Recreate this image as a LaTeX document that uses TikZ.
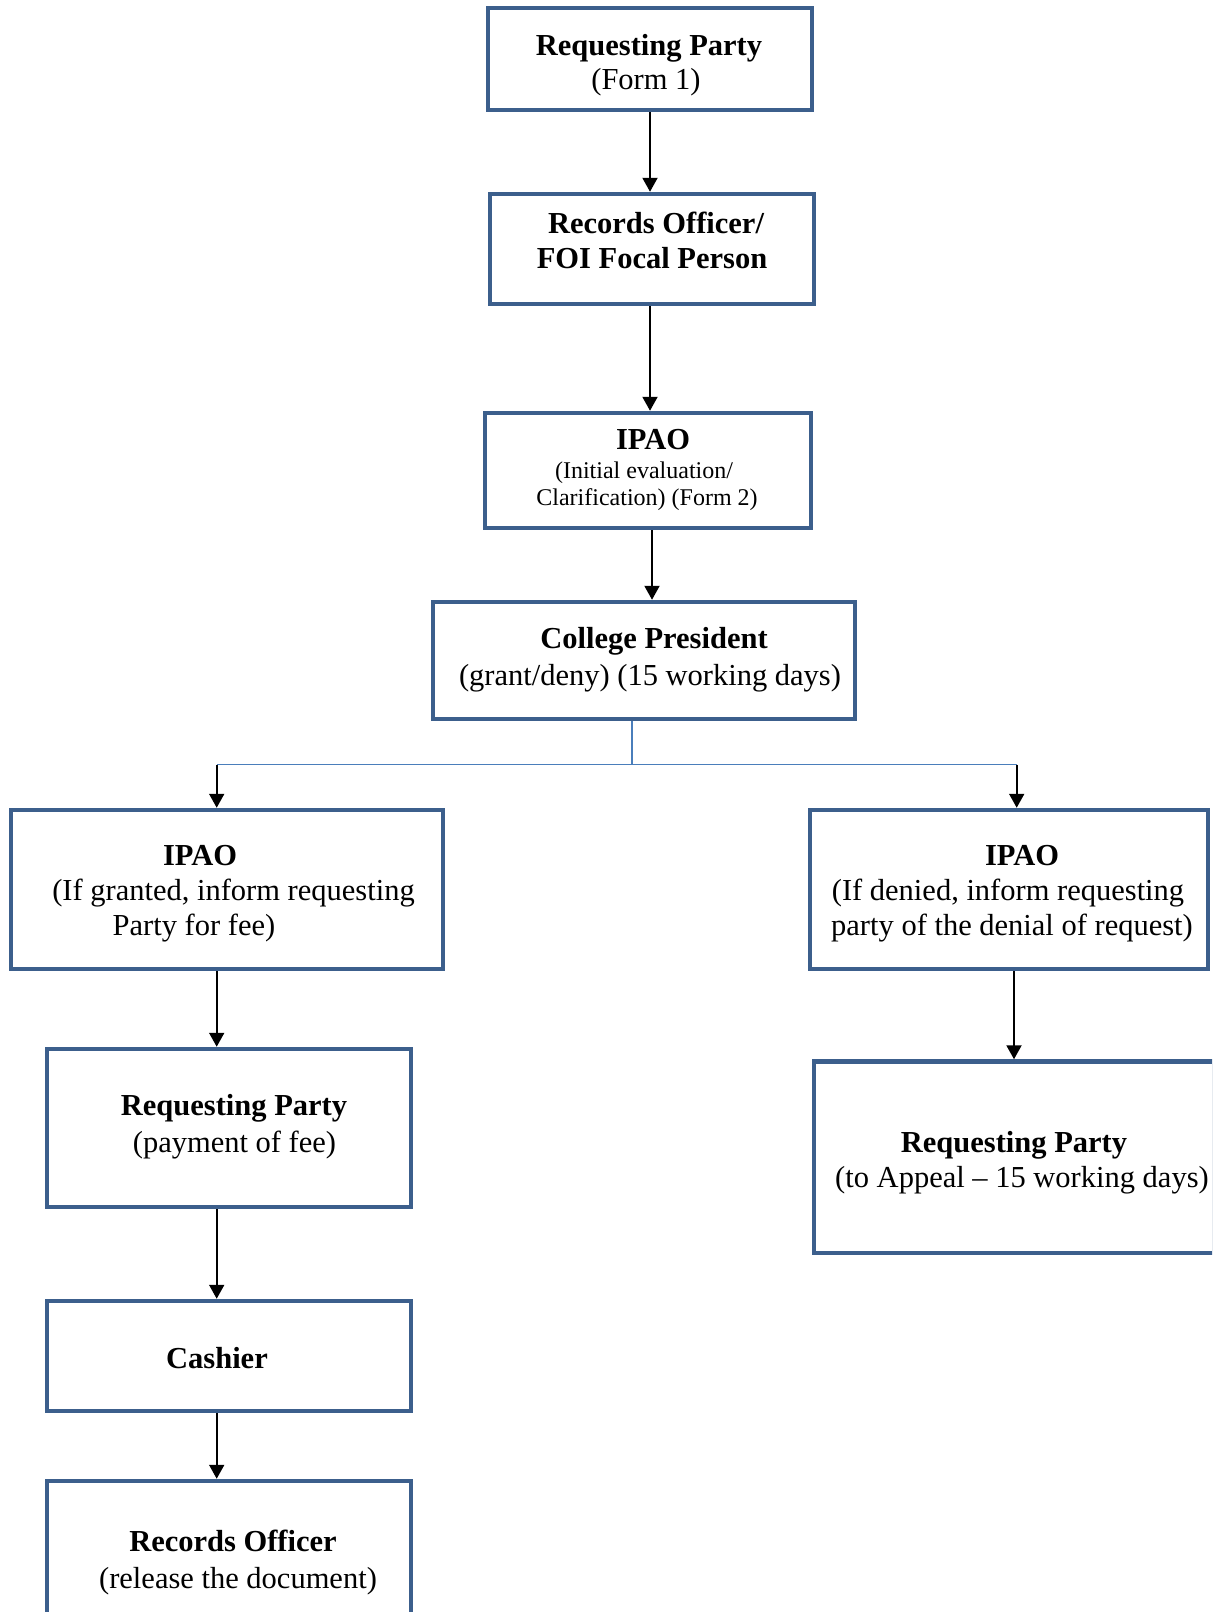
\documentclass[tikz,border=0pt]{standalone}
\usepackage{fontspec}
\setmainfont{Liberation Serif}
\usetikzlibrary{arrows.meta}
\definecolor{boxblue}{RGB}{60,95,140}
\definecolor{lineblue}{RGB}{74,126,187}
\tikzset{
  box/.style={draw=boxblue, line width=2.25pt, rectangle, inner sep=0pt, fill=white},
  arr/.style={draw=black, line width=1pt, -{Triangle[width=7.5pt,length=7pt]}},
  thinline/.style={draw=lineblue, line width=0.75pt},
  txt/.style={anchor=base, inner sep=0pt, font=\fontsize{15.25}{17}\selectfont},
  txtb/.style={anchor=base, inner sep=0pt, font=\fontsize{15.25}{17}\selectfont\bfseries},
  txts/.style={anchor=base, inner sep=0pt, font=\fontsize{12}{13.5}\selectfont}
}
\begin{document}
\begin{tikzpicture}[x=0.5pt,y=-0.5pt]
\useasboundingbox (0,0) rectangle (1212,1612);
\clip (0,0) rectangle (1212,1612);
\fill[white] (0,0) rectangle (1212,1612);
% boxes
\node[box, minimum width=162pt, minimum height=51pt] (B1) at (650,59) {};
\node[box, minimum width=162pt, minimum height=55pt] (B2) at (652,249) {};
\node[box, minimum width=163pt, minimum height=57.5pt] (B3) at (648,470.5) {};
\node[box, minimum width=211pt, minimum height=58.5pt] (B4) at (644,660.5) {};
\node[box, minimum width=216pt, minimum height=79.5pt] (B5) at (227,889.5) {};
\node[box, minimum width=182pt, minimum height=79pt] (B6) at (229,1128) {};
\node[box, minimum width=182pt, minimum height=55pt] (B7) at (229,1356) {};
\node[box, minimum width=182pt, minimum height=109.5pt] (B8) at (229,1590.5) {};
\node[box, minimum width=199pt, minimum height=79.5pt] (B9) at (1009,889.5) {};
\node[box, minimum width=200pt, minimum height=95.75pt] (B10) at (1014,1157.25) {};
% texts
\node[txtb] (t1a) at (649,55) {Requesting Party};
\node[txt] (t1b) at (646,89) {(Form 1)};
\node[txtb] (t2a) at (656,233) {Records Officer/};
\node[txtb] (t2b) at (652,268) {FOI Focal Person};
\node[txtb] (t3a) at (653,449) {IPAO};
\node[txts] (t3b) at (644,478) {(Initial evaluation/};
\node[txts] (t3c) at (647,505) {Clarification) (Form 2)};
\node[txtb] (t4a) at (654,648) {College President};
\node[txt] (t4b) at (650,685) {(grant/deny) (15 working days)};
\node[txtb] (t5a) at (200,865) {IPAO};
\node[txt] (t5b) at (233.5,900) {(If granted, inform requesting};
\node[txt] (t5c) at (194,935) {Party for fee)};
\node[txtb] (t6a) at (234,1115) {Requesting Party};
\node[txt] (t6b) at (234.5,1152) {(payment of fee)};
\node[txtb] (t7a) at (217,1368) {Cashier};
\node[txtb] (t8a) at (233,1551) {Records Officer};
\node[txt] (t8b) at (238,1588) {(release the document)};
\node[txtb] (t9a) at (1022,865) {IPAO};
\node[txt] (t9b) at (1008,900) {(If denied, inform requesting};
\node[txt] (t9c) at (1012,935) {party of the denial of request)};
\node[txtb] (t10a) at (1014,1152) {Requesting Party};
\node[txt] (t10b) at (1022,1187) {(to Appeal – 15 working days)};
% spine coordinates
\coordinate (xa) at (650,0);
\coordinate (xb) at (652,0);
\coordinate (jm) at (632,764.5);
\coordinate (jl) at (216.7,764.5);
\coordinate (jr) at (1016.7,764.5);
\coordinate (xl) at (216.7,0);
\coordinate (xr) at (1014,0);
% connectors
\draw[arr] (B1.south -| xa) -- (B2.north -| xa);
\draw[arr] (B2.south -| xa) -- (B3.north -| xa);
\draw[arr] (B3.south -| xb) -- (B4.north -| xb);
\draw[thinline] (B4.south -| jm) -- (jm);
\draw[thinline] (jl) -- (jr);
\draw[arr] (jl) -- (B5.north -| jl);
\draw[arr] (jr) -- (B9.north -| jr);
\draw[arr] (B5.south -| xl) -- (B6.north -| xl);
\draw[arr] (B6.south -| xl) -- (B7.north -| xl);
\draw[arr] (B7.south -| xl) -- (B8.north -| xl);
\draw[arr] (B9.south -| xr) -- (B10.north -| xr);
\end{tikzpicture}
\end{document}
